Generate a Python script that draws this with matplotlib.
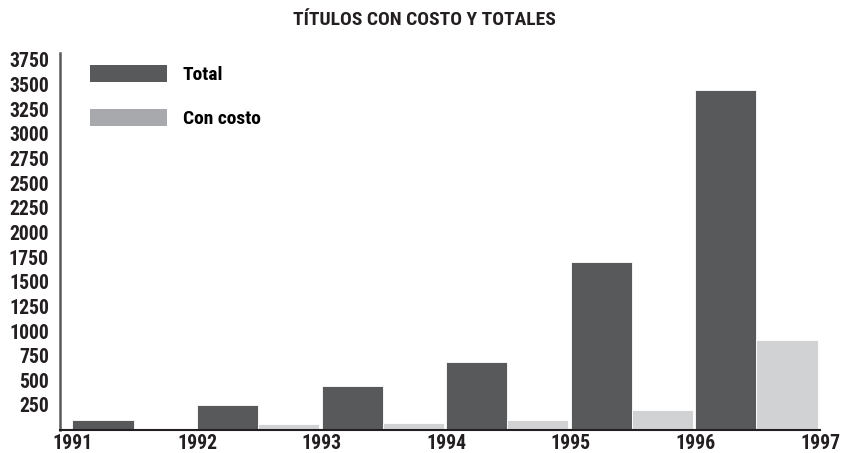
import matplotlib.pyplot as plt
import numpy as np
from matplotlib.patches import Patch

years = ['1991', '1992', '1993', '1994', '1995', '1996']
tick_years = ['1991', '1992', '1993', '1994', '1995', '1996', '1997']
total = [100, 250, 440, 690, 1700, 3440]
con_costo = [0, 60, 65, 100, 200, 910]
y_ticks = [250, 500, 750, 1000, 1250, 1500, 1750, 2000, 2250, 2500, 2750, 3000, 3250, 3500, 3750]

plt.rcParams['font.family'] = ['Roboto Condensed', 'DejaVu Sans']

dark = '#58595b'
light = '#d1d2d4'
legend_light = '#a7a9ac'
ink = '#231f20'

fig = plt.figure(figsize=(8.45, 4.53), dpi=100)
ax = fig.add_axes([60/845, 1 - 429.6/453, 760/845, 376.6/453])

x = np.arange(len(years))
w = 0.49
ax.bar(x, total, width=w, align='edge', color=dark, edgecolor='white', linewidth=0.6)
ax.bar(x + w, con_costo, width=w, align='edge', color=light, edgecolor='white', linewidth=0.6)

ax.set_xlim(-0.1, 6)
ax.set_ylim(0, 3820)
ax.set_xticks(np.arange(len(tick_years)))
ax.set_xticklabels(tick_years)
ax.set_yticks(y_ticks)
ax.tick_params(length=0, labelsize=14.2, colors=ink, pad=3.5)
ax.tick_params(axis='y', pad=8)
for lab in ax.get_xticklabels() + ax.get_yticklabels():
    lab.set_fontweight('bold')

for s in ['top', 'right']:
    ax.spines[s].set_visible(False)
ax.spines['left'].set_color('#58595b')
ax.spines['left'].set_linewidth(1.8)
ax.spines['bottom'].set_color(ink)
ax.spines['bottom'].set_linewidth(1.5)

handles = [Patch(facecolor=dark, label='Total'), Patch(facecolor=legend_light, label='Con costo')]
ax.legend(handles=handles, loc='upper left', bbox_to_anchor=(0.039, 0.968), frameon=False,
          borderaxespad=0, borderpad=0, handlelength=4.0, handleheight=1.0,
          labelspacing=1.25, handletextpad=0.8, prop={'size': 14, 'weight': 'bold'})

fig.text(0.502, 1 - 20/453, 'TÍTULOS CON COSTO Y TOTALES', ha='center', va='center',
         fontsize=14, fontweight='bold', color=ink)

fig.savefig('out.png', dpi=100)
